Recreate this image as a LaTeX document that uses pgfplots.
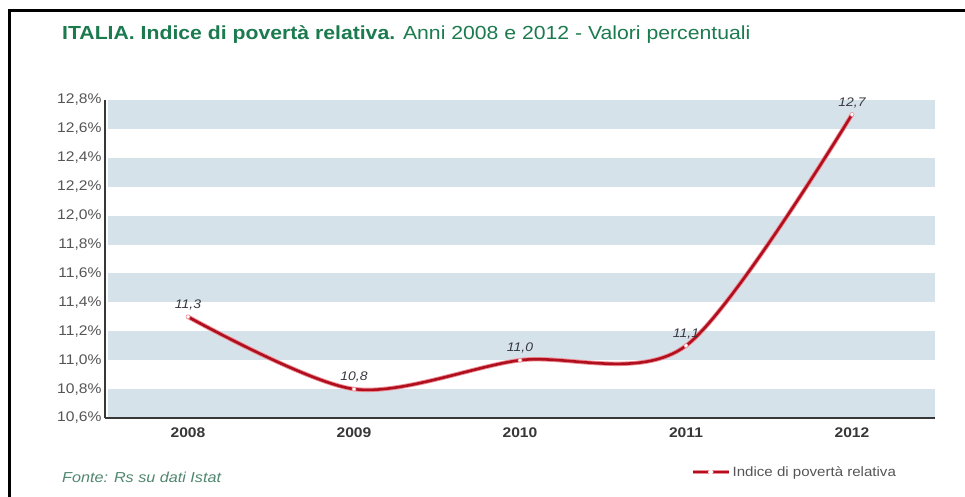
\documentclass[border=0pt]{standalone}
\usepackage{pgfplots}
\pgfplotsset{compat=1.18}
\usepackage{pgfplotstable}
\usepackage{fontspec}
\setmainfont{Liberation Sans}[FakeStretch=1.12]
\definecolor{titlegreen}{RGB}{27,122,78}
\definecolor{fontegreen}{RGB}{80,135,110}
\definecolor{band}{RGB}{214,226,234}
\definecolor{lineRed}{RGB}{176,16,30}
\definecolor{linePink}{RGB}{238,140,150}
\definecolor{tickgray}{RGB}{85,85,85}
\definecolor{labgray}{RGB}{55,55,65}
\definecolor{axisgray}{RGB}{55,55,55}

\pgfplotstableread{
year val lab
2008 11.3 11,3
2009 10.8 10,8
2010 11.0 11,0
2011 11.1 11,1
2012 12.7 12,7
}\povdata

\begin{document}
\begin{tikzpicture}
\useasboundingbox (0bp,0bp) rectangle (965bp,497bp);
\draw[line width=3bp] (9bp,0bp) -- (9bp,486bp) -- (965bp,486bp);
\node[anchor=base west, inner sep=0, text=titlegreen, font=\fontsize{19}{22}\selectfont] at (62bp,457bp) {\textbf{ITALIA. Indice di povertà relativa.} Anni 2008 e 2012 - Valori percentuali};
\node[anchor=base west, inner sep=0, text=fontegreen, font=\fontsize{14.5}{17}\selectfont\itshape] at (62bp,15bp) {Fonte: Rs su dati Istat};
\begin{axis}[
  at={(105bp,79bp)}, anchor=south west, scale only axis, width=830bp, height=318bp,
  xmin=2007.5, xmax=2012.5, ymin=10.6, ymax=12.8,
  axis x line*=bottom, axis y line*=left,
  axis line style={axisgray, line width=1.8bp, -},
  axis on top=true,
  clip=false,
  xtick={2008,2009,2010,2011,2012}, xticklabels={2008,2009,2010,2011,2012},
  ytick={10.6,10.8,11.0,11.2,11.4,11.6,11.8,12.0,12.2,12.4,12.6,12.8},
  yticklabel={\pgfmathprintnumber[fixed,fixed zerofill,precision=1,use comma]{\tick}\%},
  /pgf/number format/assume math mode=true,
  major tick length=0,
  xticklabel style={font=\fontsize{14}{16}\selectfont\bfseries, text=axisgray, yshift=-6bp},
  yticklabel style={font=\fontsize{14}{16}\selectfont, text=tickgray},
  legend style={at={(0.702,-0.170)}, anchor=west, draw=none, fill=none,
    font=\fontsize{13.5}{16}\selectfont, text=tickgray},
  legend image code/.code={\draw[linePink, line width=3.8bp] (0bp,0bp) -- (36bp,0bp); \draw[lineRed, line width=2.4bp] (0bp,0bp) -- (36bp,0bp); \fill[white] (18bp,0bp) circle (1.1bp);},
]
\fill[band] (axis cs:2007.52,12.6) rectangle (axis cs:2012.5,12.8);
\fill[band] (axis cs:2007.52,12.2) rectangle (axis cs:2012.5,12.4);
\fill[band] (axis cs:2007.52,11.8) rectangle (axis cs:2012.5,12.0);
\fill[band] (axis cs:2007.52,11.4) rectangle (axis cs:2012.5,11.6);
\fill[band] (axis cs:2007.52,11.0) rectangle (axis cs:2012.5,11.2);
\fill[band] (axis cs:2007.52,10.6) rectangle (axis cs:2012.5,10.8);
\addplot[smooth, linePink, line width=4.4bp, forget plot] table[x=year, y=val] {\povdata};
\addplot[smooth, lineRed, line width=2.6bp, mark=*, mark size=2bp,
  mark options={fill=white, draw=linePink, line width=0.6bp},
  point meta=explicit symbolic,
  nodes near coords,
  nodes near coords style={font=\fontsize{12.5}{14}\selectfont\itshape, text=labgray, yshift=3bp}]
  table[x=year, y=val, meta=lab] {\povdata};
\addlegendentry{Indice di povertà relativa}
\end{axis}
\end{tikzpicture}
\end{document}
